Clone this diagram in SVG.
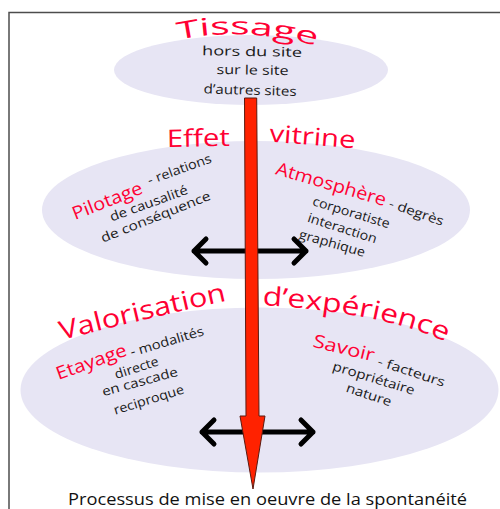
<svg xmlns="http://www.w3.org/2000/svg" width="500" height="509" viewBox="0 0 500 509">
<style>
 text{font-family:"Open Sans","DejaVu Sans",sans-serif;}
 .ell{fill:#e7e5f4;}
 .title{fill:#ff0033;font-size:24px;}
 .big{fill:#ff0033;font-size:26px;}
 .key{fill:#ff0033;font-size:18px;}
 .body{fill:#1a1a1a;font-size:13px;}
 .mid{text-anchor:middle;}
 .dbl{fill:none;stroke:#000;stroke-width:5;stroke-linecap:round;stroke-linejoin:round;}
 .red{fill:#ff2200;stroke:#5a1a10;stroke-width:1;}
</style>
<defs>
 <path id="arcT" d="M 178 40 Q 240 26 318 46"/>
 <path id="arcV" d="M 62 340 Q 140 320 238 298"/>
 <path id="arcD" d="M 262 305 Q 384 313 446 342"/>
</defs>
<rect width="500" height="509" fill="#fff"/>
<path d="M 9 509 V 12.5 H 500" fill="none" stroke="#4d4d4d" stroke-width="1.5"/>

<g id="tissage">
 <ellipse class="ell" cx="251" cy="70" rx="137" ry="35"/>
 <text class="title"><textPath href="#arcT" textLength="140" lengthAdjust="spacingAndGlyphs">Tissage</textPath></text>
 <text class="body mid" x="252" y="56" textLength="100" lengthAdjust="spacingAndGlyphs" transform="rotate(1 252 56)">hors du site</text>
 <text class="body mid" x="252.5" y="74.5" textLength="72" lengthAdjust="spacingAndGlyphs" transform="rotate(0.8 252.5 74.5)">sur le site</text>
 <text class="body mid" x="250" y="94.7" textLength="93" lengthAdjust="spacingAndGlyphs" transform="rotate(1.7 250 94.7)">d’autres sites</text>
</g>

<g id="effet-vitrine">
 <ellipse class="ell" cx="256" cy="210" rx="214" ry="69"/>
 <text class="title" x="167" y="147" textLength="63" lengthAdjust="spacingAndGlyphs" transform="rotate(-1 167 147)">Effet</text>
 <text class="title" x="269" y="141.5" textLength="86" lengthAdjust="spacingAndGlyphs" transform="rotate(4.5 269 141.5)">vitrine</text>
 <g id="pilotage">
  <text class="key mid" x="109.5" y="206.5" textLength="74" lengthAdjust="spacingAndGlyphs" transform="rotate(-21.5 109.5 206.5)">Pilotage</text>
  <text class="body mid" x="181" y="173.5" textLength="67" lengthAdjust="spacingAndGlyphs" transform="rotate(-20 181 173.5)">- relations</text>
  <text class="body mid" x="150.3" y="207.5" textLength="82" lengthAdjust="spacingAndGlyphs" transform="rotate(-20 150.3 207.5)">de causalité</text>
  <text class="body mid" x="157.3" y="221" textLength="117" lengthAdjust="spacingAndGlyphs" transform="rotate(-21.8 157.3 221)">de conséquence</text>
 </g>
 <g id="atmosphere">
  <text class="key mid" x="329.5" y="190" textLength="114" lengthAdjust="spacingAndGlyphs" transform="rotate(16.4 329.5 190)">Atmosphère</text>
  <text class="body mid" x="415" y="216.5" textLength="57" lengthAdjust="spacingAndGlyphs" transform="rotate(19 415 216.5)">- degrès</text>
  <text class="body mid" x="350" y="216.7" textLength="80" lengthAdjust="spacingAndGlyphs" transform="rotate(17 350 216.7)">corporatiste</text>
  <text class="body mid" x="341" y="232.5" textLength="72" lengthAdjust="spacingAndGlyphs" transform="rotate(17.6 341 232.5)">interaction</text>
  <text class="body mid" x="331" y="247.5" textLength="68" lengthAdjust="spacingAndGlyphs" transform="rotate(16 331 247.5)">graphique</text>
 </g>
</g>

<g id="valorisation">
 <ellipse class="ell" cx="259.5" cy="390" rx="239" ry="82.5"/>
 <text class="big"><textPath href="#arcV" textLength="170" lengthAdjust="spacingAndGlyphs">Valorisation</textPath></text>
 <text class="big"><textPath href="#arcD" textLength="188" lengthAdjust="spacingAndGlyphs">d’expérience</textPath></text>
 <g id="etayage">
  <text class="key mid" x="93.3" y="367.5" textLength="74" lengthAdjust="spacingAndGlyphs" transform="rotate(-19.7 93.3 367.5)">Etayage</text>
  <text class="body mid" x="168.3" y="345.8" textLength="76" lengthAdjust="spacingAndGlyphs" transform="rotate(-16.5 168.3 345.8)">- modalités</text>
  <text class="body mid" x="138" y="372" textLength="45.5" lengthAdjust="spacingAndGlyphs" transform="rotate(-18 138 372)">directe</text>
  <text class="body mid" x="141" y="386" textLength="78" lengthAdjust="spacingAndGlyphs" transform="rotate(-15.4 141 386)">en cascade</text>
  <text class="body mid" x="150" y="404" textLength="73" lengthAdjust="spacingAndGlyphs" transform="rotate(-17.2 150 404)">reciproque</text>
 </g>
 <g id="savoir">
  <text class="key mid" x="342.5" y="354" textLength="63" lengthAdjust="spacingAndGlyphs" transform="rotate(13.7 342.5 354)">Savoir</text>
  <text class="body mid" x="410" y="376" textLength="70" lengthAdjust="spacingAndGlyphs" transform="rotate(18 410 376)">- facteurs</text>
  <text class="body mid" x="372.5" y="382.5" textLength="85" lengthAdjust="spacingAndGlyphs" transform="rotate(17 372.5 382.5)">propriétaire</text>
  <text class="body mid" x="367.5" y="399" textLength="47" lengthAdjust="spacingAndGlyphs" transform="rotate(18.4 367.5 399)">nature</text>
 </g>
</g>

<g id="connectors">
 <path class="dbl" d="M 206 239 L 194 251 L 206 263 M 194 251 L 306 251 M 294 239 L 306 251 L 294 263"/>
 <path class="dbl" d="M 214 420 L 202 432 L 214 444 M 202 432 L 313 432 M 301 420 L 313 432 L 301 444"/>
 <polygon class="red" points="244.5,98 256.7,98 259,416 265,416 253,489 240,416 246,416"/>
</g>

<text x="68" y="505" font-size="15.5" fill="#111" textLength="399" lengthAdjust="spacingAndGlyphs">Processus de mise en oeuvre de la spontanéité</text>
</svg>
